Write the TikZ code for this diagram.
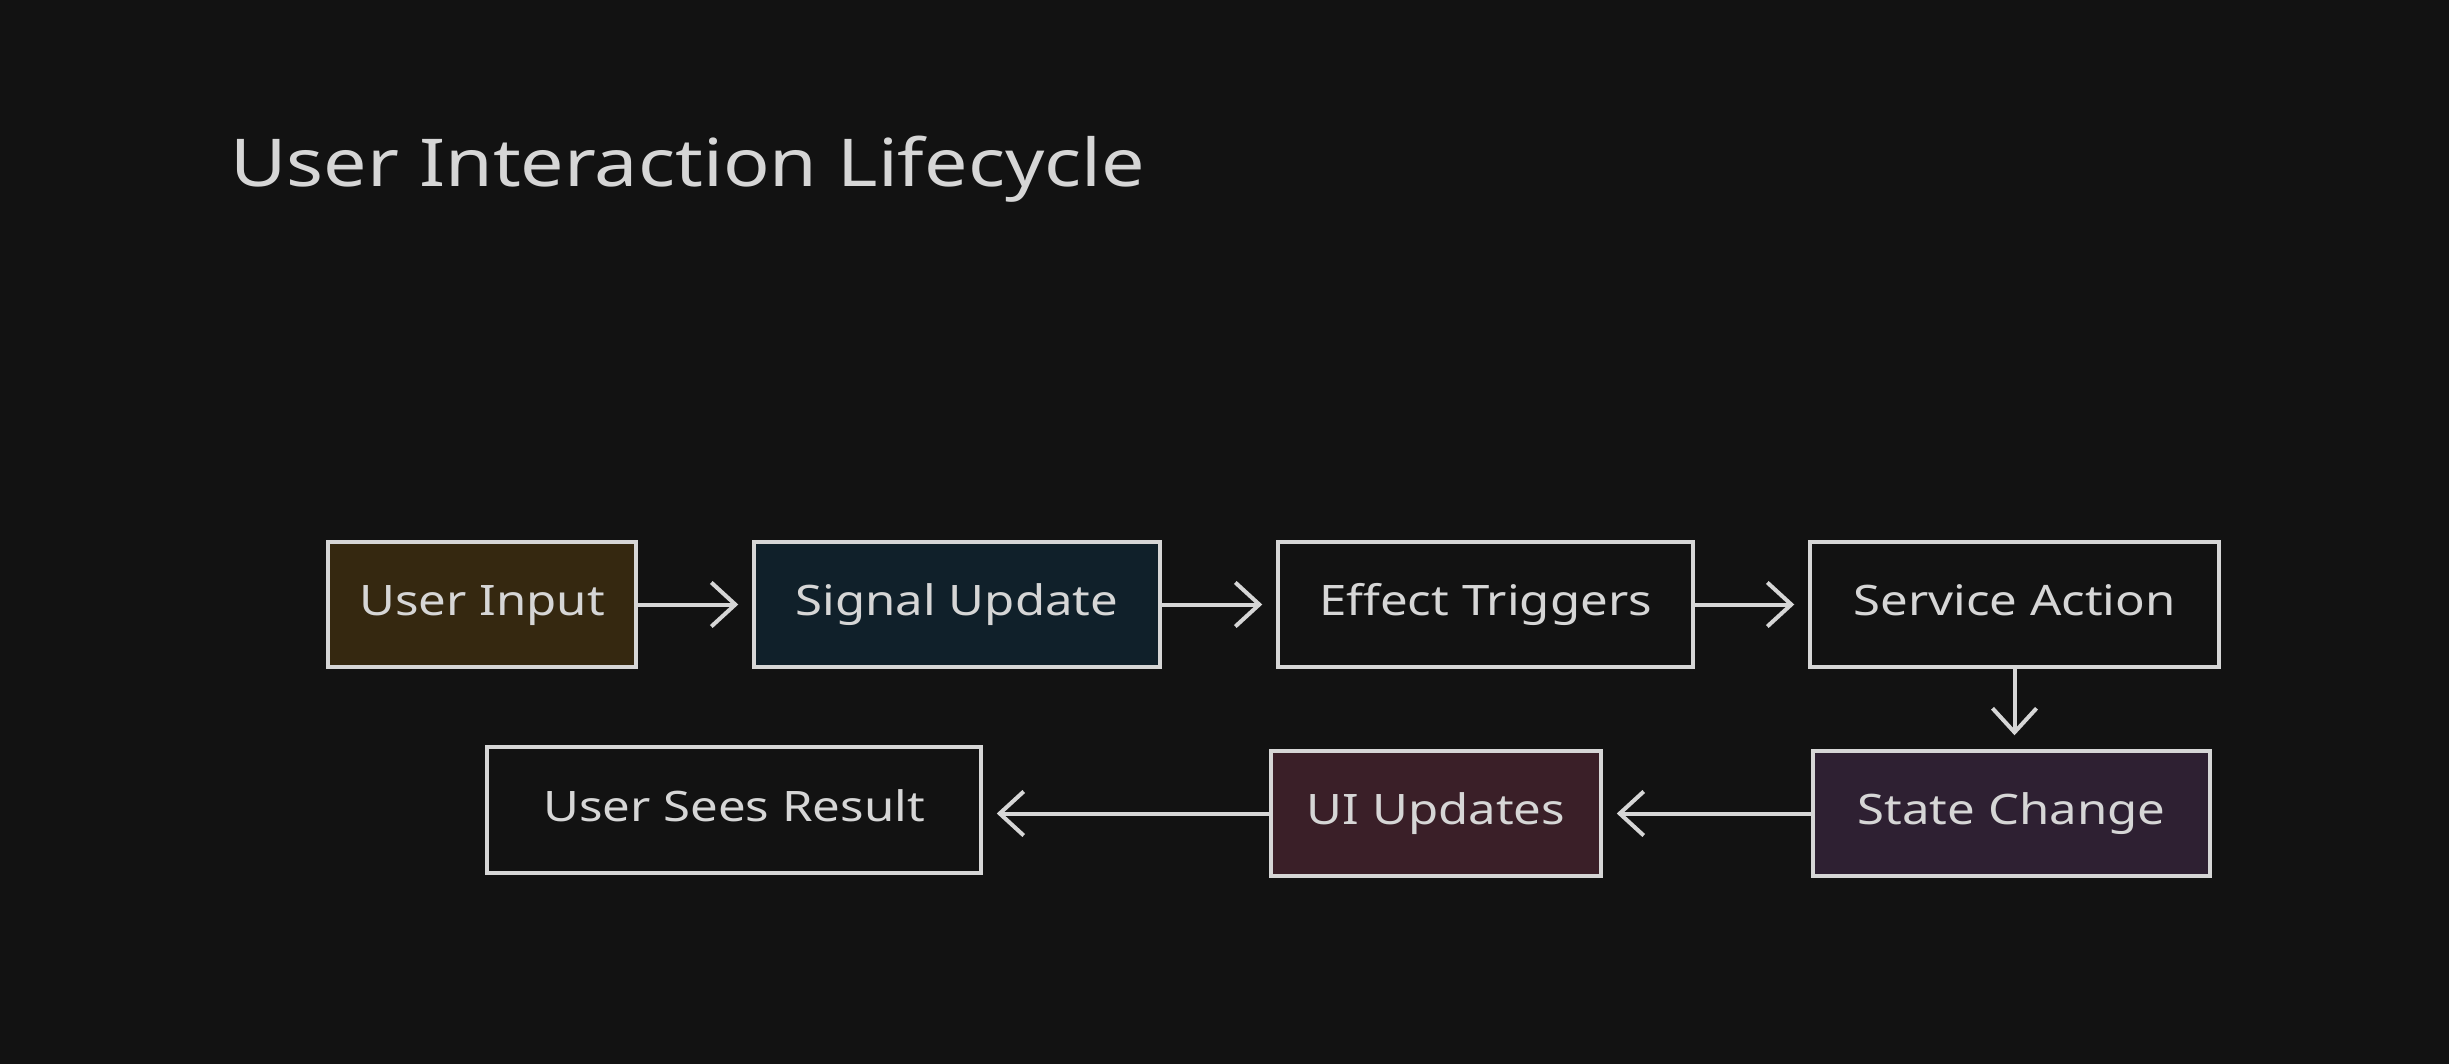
\documentclass[tikz,border=0pt]{standalone}
\usepackage{fontspec}
\setmainfont[FakeStretch=1.17]{Noto Sans}
\usetikzlibrary{arrows.meta}
\definecolor{bg}{HTML}{121212}
\definecolor{ink}{HTML}{D6D6D6}
\definecolor{fillA}{HTML}{352810}
\definecolor{fillB}{HTML}{10202A}
\definecolor{fillC}{HTML}{3A1F28}
\definecolor{fillD}{HTML}{2E2032}
\tikzset{
  x=1pt,y=-1pt,
  boxnode/.style={draw=ink,line width=3.5pt,fill=bg,text=ink,minimum height=125pt,inner sep=0pt,text height=31pt,text depth=9pt,font=\fontsize{42}{50}\selectfont},
  flow/.style={draw=ink,line width=4pt,-{Straight Barb[length=24pt,width=44pt,line width=4pt]},shorten >=14pt}
}
\begin{document}
\begin{tikzpicture}
\fill[bg] (0,0) rectangle (2449,1064);
\useasboundingbox (0,0) rectangle (2449,1064);
\node[anchor=base west,text=ink,font=\fontsize{66}{76}\selectfont,inner sep=0pt] (title) at (230,187) {User Interaction Lifecycle};
\node[boxnode,fill=fillA,minimum width=308pt] (ui) at (482,604.5) {User Input};
\node[boxnode,fill=fillB,minimum width=406pt] (su) at (957,604.5) {Signal Update};
\node[boxnode,minimum width=415pt] (et) at (1485.5,604.5) {Effect Triggers};
\node[boxnode,minimum width=409pt] (sa) at (2014.5,604.5) {Service Action};
\node[boxnode,fill=fillD,minimum width=397pt] (sc) at (2011.5,813.5) {State Change};
\node[boxnode,fill=fillC,minimum width=330pt] (uu) at (1436,813.5) {UI Updates};
\node[boxnode,minimum width=494pt,minimum height=126pt] (us) at (734,810) {User Sees Result};
\draw[flow] (ui.east) -- (su.west);
\draw[flow] (su.east) -- (et.west);
\draw[flow] (et.east) -- (sa.west);
\draw[flow] (sa.south) -- (sa.south |- sc.north);
\draw[flow] (sc.west) -- (uu.east);
\draw[flow] (uu.west) -- (uu.west -| us.east);
\end{tikzpicture}
\end{document}
